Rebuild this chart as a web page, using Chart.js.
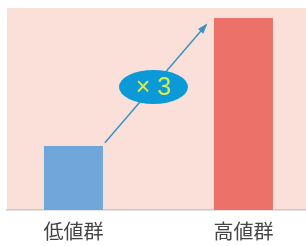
<!DOCTYPE html>
<html>
<head>
<meta charset="utf-8">
<script src="https://cdn.jsdelivr.net/npm/chart.js@4"></script>
<style>
  html, body { margin: 0; padding: 0; background: #ffffff; }
  #chart { display: block; }
</style>
</head>
<body>
<canvas id="chart" width="306" height="246"></canvas>
<script>
// --- data ---
const groups = ['低値群', '高値群'];
const groupPos = [0, 1];
const values = [1, 3];
const barColors = ['#70a7da', '#ec7168'];

const ratio = Math.round(values[1] / values[0]);

// pink plot background
const bgPlugin = {
    id: 'plotBg',
    beforeDraw(chart) {
        const { ctx, chartArea } = chart;
        ctx.save();
        ctx.fillStyle = '#fbdfd9';
        ctx.fillRect(chartArea.left, chartArea.top, chartArea.right - chartArea.left, chartArea.bottom - chartArea.top);
        ctx.restore();
    }
};

// arrow from low bar to high bar with the "× n" bubble
const arrowPlugin = {
    id: 'ratioArrow',
    afterDatasetsDraw(chart) {
        const { ctx, scales: { x, y } } = chart;
        const x0 = x.getPixelForValue(groupPos[0] + 0.185);
        const y0 = y.getPixelForValue(values[0] * 1.05);
        const x1 = x.getPixelForValue(groupPos[1] - 0.22);
        const y1 = y.getPixelForValue(values[1] * 0.963);
        ctx.save();
        ctx.strokeStyle = '#3a93c4';
        ctx.fillStyle = '#3a93c4';
        ctx.lineWidth = 1.5;
        ctx.beginPath();
        ctx.moveTo(x0, y0);
        ctx.lineTo(x1, y1);
        ctx.stroke();
        const ang = Math.atan2(y1 - y0, x1 - x0);
        const len = 9;
        ctx.beginPath();
        ctx.moveTo(x1 + 2 * Math.cos(ang), y1 + 2 * Math.sin(ang));
        ctx.lineTo(x1 - len * Math.cos(ang - 0.4), y1 - len * Math.sin(ang - 0.4));
        ctx.lineTo(x1 - len * Math.cos(ang + 0.4), y1 - len * Math.sin(ang + 0.4));
        ctx.closePath();
        ctx.fill();

        const cx = (x0 + x1) / 2 - 2;
        const cy = (y0 + y1) / 2 + 3;
        ctx.fillStyle = '#0b99d7';
        ctx.beginPath();
        ctx.ellipse(cx, cy, 34.5, 17, 0, 0, Math.PI * 2);
        ctx.fill();
        ctx.fillStyle = '#d9ee45';
        ctx.font = '25px "Liberation Sans", Arial, sans-serif';
        ctx.textAlign = 'center';
        ctx.textBaseline = 'middle';
        ctx.fillText('× ' + ratio, cx, cy + 1);
        ctx.restore();
    }
};

new Chart(document.getElementById('chart'), {
    type: 'bar',
    data: {
        datasets: [{
            data: groupPos.map((p, i) => ({ x: p, y: values[i] })),
            backgroundColor: barColors,
            borderWidth: 0,
            barPercentage: 0.347,
            categoryPercentage: 1
        }]
    },
    options: {
        responsive: false,
        animation: false,
        layout: { padding: { top: 8, left: 7, right: 0, bottom: 0 } },
        plugins: { legend: { display: false }, tooltip: { enabled: false } },
        scales: {
            x: {
                type: 'linear',
                offset: false,
                min: -0.391,
                max: 1.368,
                grid: { display: false, drawTicks: false, offset: false },
                border: { display: true, color: '#c8c8c8', width: 1.5 },
                afterBuildTicks(scale) {
                    scale.ticks = groupPos.map(v => ({ value: v }));
                },
                afterFit(scale) {
                    scale.height = 36;
                },
                ticks: {
                    padding: 9,
                    color: '#444444',
                    font: { family: '"Noto Sans CJK JP", sans-serif', size: 20 },
                    callback: (v) => groups[groupPos.indexOf(v)] ?? ''
                }
            },
            y: {
                display: false,
                min: 0,
                max: 3.156
            }
        }
    },
    plugins: [bgPlugin, arrowPlugin]
});
</script>
</body>
</html>
